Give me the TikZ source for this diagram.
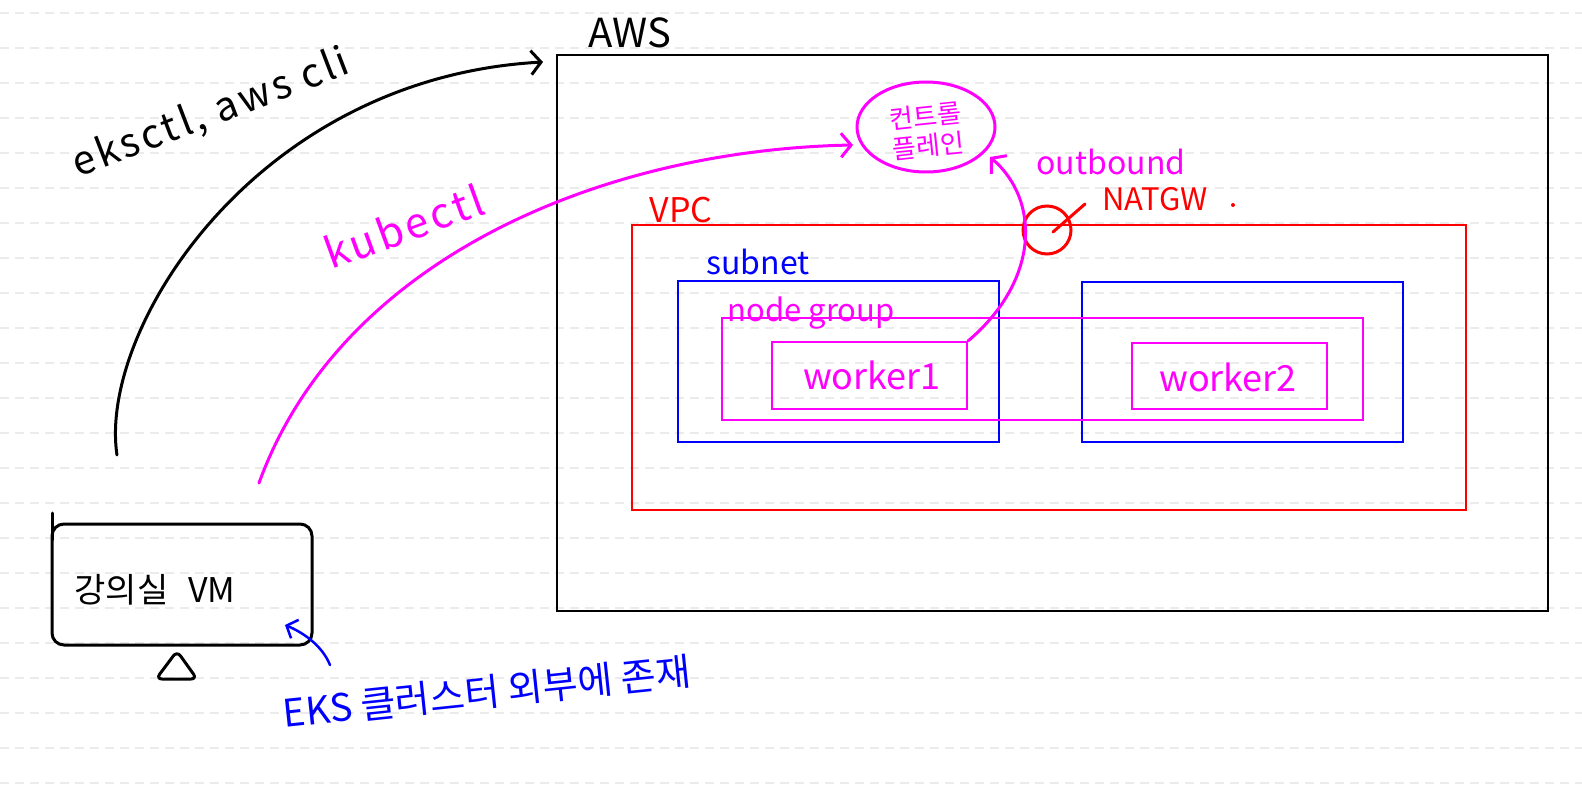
\documentclass[tikz,border=0pt]{standalone}
\usepackage{fontspec}
\setmainfont{Noto Sans CJK KR}
\newfontfamily\widefont[LetterSpace=8]{Noto Sans CJK KR}
\usetikzlibrary{arrows.meta,shapes.geometric}
\definecolor{mag}{HTML}{FF00FF}
\definecolor{rd}{HTML}{FF0000}
\definecolor{bl}{HTML}{0000FF}
\definecolor{ruleln}{HTML}{EBEBEB}
\tikzset{
  box/.style={draw, line width=2pt, inner sep=0pt},
  txt/.style={inner sep=0pt},
  pen/.style={line width=3pt, line cap=round, line join=round},
  handarrow/.style={-{Straight Barb[length=10pt,width=24pt,line width=3pt]}},
}
\begin{document}
\begin{tikzpicture}[x=1pt,y=-1pt]
\useasboundingbox (0,0) rectangle (1582,802);
\fill[white] (0,0) rectangle (1582,802);
\foreach \k in {0,...,22}
  \draw[ruleln, line width=1.5pt, dash pattern=on 9pt off 6pt] (0,{13+35*\k}) -- (1582,{13+35*\k});

% boxes
\node[box, black, minimum width=991pt, minimum height=556pt] (aws) at (1052.5,333) {};
\node[box, rd, minimum width=834pt, minimum height=285pt] (vpc) at (1049,367.5) {};
\node[box, bl, minimum width=321pt, minimum height=161pt] (sub1) at (838.5,361.5) {};
\node[box, bl, minimum width=321pt, minimum height=160pt] (sub2) at (1242.5,362) {};
\node[box, mag, minimum width=641pt, minimum height=102pt] (ng) at (1042.5,369) {};
\node[box, mag, minimum width=195pt, minimum height=67pt] (w1) at (869.5,375.5) {};
\node[box, mag, minimum width=195pt, minimum height=66pt] (w2) at (1229.5,376) {};

% labels
\node[txt, font=\fontsize{40}{44}\selectfont] (awsl) at (630,33) {AWS};
\node[txt, text=rd, font=\fontsize{34}{38}\selectfont] (vpcl) at (681,210) {VPC};
\node[txt, text=bl, font=\fontsize{32}{36}\selectfont] (subl) at (758,262) {subnet};
\node[txt, text=mag, font=\fontsize{31}{35}\selectfont] (ngl) at (811,313) {node group};
\node[txt, text=mag, font=\fontsize{36}{40}\selectfont] (w1l) at (872,375) {worker1};
\node[txt, text=mag, font=\fontsize{36}{40}\selectfont] (w2l) at (1228,377) {worker2};

% control plane
\node[draw=mag, line width=3pt, ellipse, minimum width=138pt, minimum height=90pt] (cp) at (926,127) {};
\node[txt, text=mag, align=center, rotate=6, font=\fontsize{26}{30}\selectfont] (cpl) at (927,131) {컨트롤\\플레인};

% NAT gateway
\node[draw=rd, line width=3pt, circle, minimum size=48pt, inner sep=0pt] (nat) at (1047,230) {};
\node[txt, text=rd, font=\fontsize{31}{35}\selectfont] (natl) at (1155,199) {NATGW};
\coordinate (natp) at (1053,232);
\coordinate (natq) at (1085,204);
\draw[rd, pen] (natp) -- (natq);
\fill[rd] (1233,205) circle (2pt);
\node[txt, text=mag, font=\fontsize{32}{36}\selectfont] (outl) at (1111,162) {outbound};
\coordinate (outtip) at (990,157);
\draw[mag, pen, handarrow] (w1.north east) .. controls (1040,280) and (1040,200) .. (outtip);

% VM
\node[draw, line width=3pt, rounded corners=12pt, minimum width=260pt, minimum height=121pt, inner sep=0pt] (vm) at (182,584.5) {};
\coordinate (vmtk0) at (52,540);
\coordinate (vmtk1) at (52,513);
\draw[pen] (vmtk0) -- (vmtk1);
\node[txt, font=\fontsize{34}{38}\selectfont] (vmt) at (155,590) {강의실\hspace{20pt}VM};
\coordinate (stl) at (156,679);
\coordinate (stt) at (177,651);
\coordinate (str) at (197,679);
\draw[pen, rounded corners=6pt] (stl) -- (stt) -- (str) -- cycle;

% eksctl arrow
\coordinate (ek0) at (117,455);
\coordinate (ektip) at (543,62);
\draw[pen, handarrow] (ek0) .. controls (98,330) and (255,78) .. (ektip);
\node[txt, rotate=21, font=\widefont\fontsize{40}{44}\selectfont] (ekl) at (211,114) {eksctl, aws cli};

% kubectl arrow
\coordinate (ku0) at (259,483);
\coordinate (kutip) at (853,145);
\draw[mag, pen, handarrow] (ku0) .. controls (340,260) and (600,150) .. (kutip);
\node[txt, text=mag, rotate=20, font=\widefont\fontsize{42}{46}\selectfont] (kul) at (404,226) {kubectl};

% EKS note
\coordinate (ex0) at (330,665);
\coordinate (extip) at (285,625);
\draw[bl, line width=2.5pt, line cap=round, -{Straight Barb[length=9pt,width=20pt,line width=2.5pt]}] (ex0) .. controls (322,645) and (302,632) .. (extip);
\node[txt, text=bl, rotate=6, font=\fontsize{38}{42}\selectfont] (exl) at (487,692) {EKS 클러스터 외부에 존재};
\end{tikzpicture}
\end{document}
